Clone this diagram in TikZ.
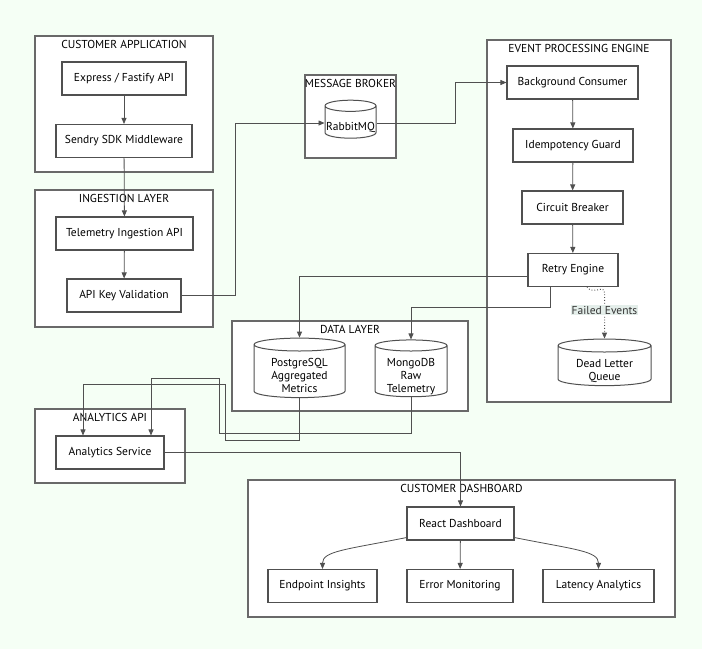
\documentclass[tikz,border=0pt]{standalone}
\usepackage{fontspec}
\setmainfont{PT Sans}
\usetikzlibrary{shapes.geometric, arrows.meta, positioning, calc}
\definecolor{cBack}{RGB}{245,255,245}
\definecolor{cLine}{RGB}{80,80,80}
\definecolor{cFrame}{RGB}{105,105,105}
\definecolor{cLabel}{RGB}{228,238,234}
\newcommand{\dbtext}[1]{\raisebox{-5pt}[\height][\depth]{\begin{tabular}{@{}c@{}}#1\end{tabular}}}
\tikzset{
	cluster/.style ={rectangle, draw=cFrame, line width=1.1pt, fill=white, inner sep=0pt},
	ctitle/.style  ={inner sep=1pt, text=black},
	svc/.style     ={rectangle, draw=cLine, line width=1.1pt, fill=white, minimum height=33pt, align=center, inner sep=2pt},
	db/.style      ={cylinder, shape border rotate=90, aspect=0.22, draw=cLine, line width=1pt, fill=white, align=center, inner sep=1pt},
	link/.style    ={-{Triangle[length=6pt, width=5pt]}, draw=cLine, line width=0.8pt},
	faillink/.style={link, dotted, line width=1pt},
	faillabel/.style={fill=cLabel, inner sep=1pt, text=black!80},
}
\begin{document}
\begin{tikzpicture}[x=1pt, y=-1pt, font=\fontsize{11.5}{13}\selectfont]
	\fill[cBack] (0,0) rectangle (702,649);
	\useasboundingbox (0,0) rectangle (702,649);
	% clusters
	\node[cluster, minimum width=178, minimum height=136] (custapp) at (124,104) {};
	\node[cluster, minimum width=178, minimum height=137] (ingest) at (124,258.5) {};
	\node[cluster, minimum width=91, minimum height=83] (broker) at (350.5,116.5) {};
	\node[cluster, minimum width=184, minimum height=362] (engine) at (579,221) {};
	\node[cluster, minimum width=236, minimum height=90] (datalayer) at (350,366) {};
	\node[cluster, minimum width=150, minimum height=74] (analytics) at (110,446) {};
	\node[cluster, minimum width=427, minimum height=137] (dash) at (461.5,548.5) {};
	\node[ctitle, below=3.5pt of custapp.north] {CUSTOMER APPLICATION};
	\node[ctitle, below=3.5pt of ingest.north] {INGESTION LAYER};
	\node[ctitle, below=3.5pt of broker.north] {MESSAGE BROKER};
	\node[ctitle, below=3.5pt of engine.north] {EVENT PROCESSING ENGINE};
	\node[ctitle, below=3.5pt of datalayer.north] {DATA LAYER};
	\node[ctitle, below=3.5pt of analytics.north] {ANALYTICS API};
	\node[ctitle, below=3.5pt of dash.north] {CUSTOMER DASHBOARD};
	% services
	\node[svc, minimum width=124] (express) at (124,78.5) {Express / Fastify API};
	\node[svc, minimum width=136] (sendry) at (124,141) {Sendry SDK Middleware};
	\node[svc, minimum width=137] (telemetry) at (124.5,233.5) {Telemetry Ingestion API};
	\node[svc, minimum width=114] (apikey) at (124,295.5) {API Key Validation};
	\node[db, minimum width=51, minimum height=38] (rabbit) at (350.5,123) {\dbtext{RabbitMQ}};
	\node[svc, minimum width=131] (consumer) at (572.5,82.5) {Background Consumer};
	\node[svc, minimum width=120] (idem) at (573,145.5) {Idempotency Guard};
	\node[svc, minimum width=101] (breaker) at (572.5,207.5) {Circuit Breaker};
	\node[svc, minimum width=90] (retry) at (573,270) {Retry Engine};
	\node[db, minimum width=93, minimum height=41] (dlq) at (604.5,366.5) {\dbtext{Dead Letter\\Queue}};
	\node[db, minimum width=91, minimum height=48] (pg) at (299.5,372) {\dbtext{PostgreSQL\\Aggregated\\Metrics}};
	\node[db, minimum width=72, minimum height=48] (mongo) at (411,372) {\dbtext{MongoDB\\Raw\\Telemetry}};
	\node[svc, minimum width=108] (service) at (110,452.5) {Analytics Service};
	\node[svc, minimum width=107] (react) at (460.5,523.5) {React Dashboard};
	\node[svc, minimum width=109] (insights) at (322.5,586) {Endpoint Insights};
	\node[svc, minimum width=106] (errors) at (460,586) {Error Monitoring};
	\node[svc, minimum width=111] (latency) at (598.5,586) {Latency Analytics};
	% connectors
	\draw[link] (express) -- (sendry);
	\draw[link] (sendry) -- (telemetry);
	\draw[link] (telemetry) -- (apikey);
	\draw[link] (apikey.east) -- ++(54,0) |- (rabbit.west);
	\draw[link] (rabbit.east) -- ++(79,0) |- (consumer.west);
	\draw[link] (consumer) -- (idem);
	\draw[link] (idem) -- (breaker);
	\draw[link] (breaker) -- (retry);
	\draw[link] ([yshift=-6pt]retry.west) -| (pg.north);
	\draw[link] ([xshift=-23pt]retry.south) -- ++(0,20) -| (mongo.north);
	\draw[faillink] ([xshift=14pt]retry.south) .. controls +(6,8) and +(0,-8) .. ($(dlq.north)+(0,-46)$) -- node[faillabel, pos=0.38] {Failed Events} (dlq.north);
	\draw[link] (pg.south) -- ++(0,42) -| ++(-74,-56) -| ([xshift=-27pt]service.north);
	\draw[link] (mongo.south) -- ++(0,36) -| ++(-192,-55) -| ([xshift=41pt]service.north);
	\draw[link] (service.east) -| (react.north);
	\draw[link] ([yshift=3pt]react.south west) .. controls +(-60,12) and +(0,-18) .. (insights.north);
	\draw[link] (react) -- (errors);
	\draw[link] ([yshift=3pt]react.south east) .. controls +(60,12) and +(0,-18) .. (latency.north);
\end{tikzpicture}
\end{document}
